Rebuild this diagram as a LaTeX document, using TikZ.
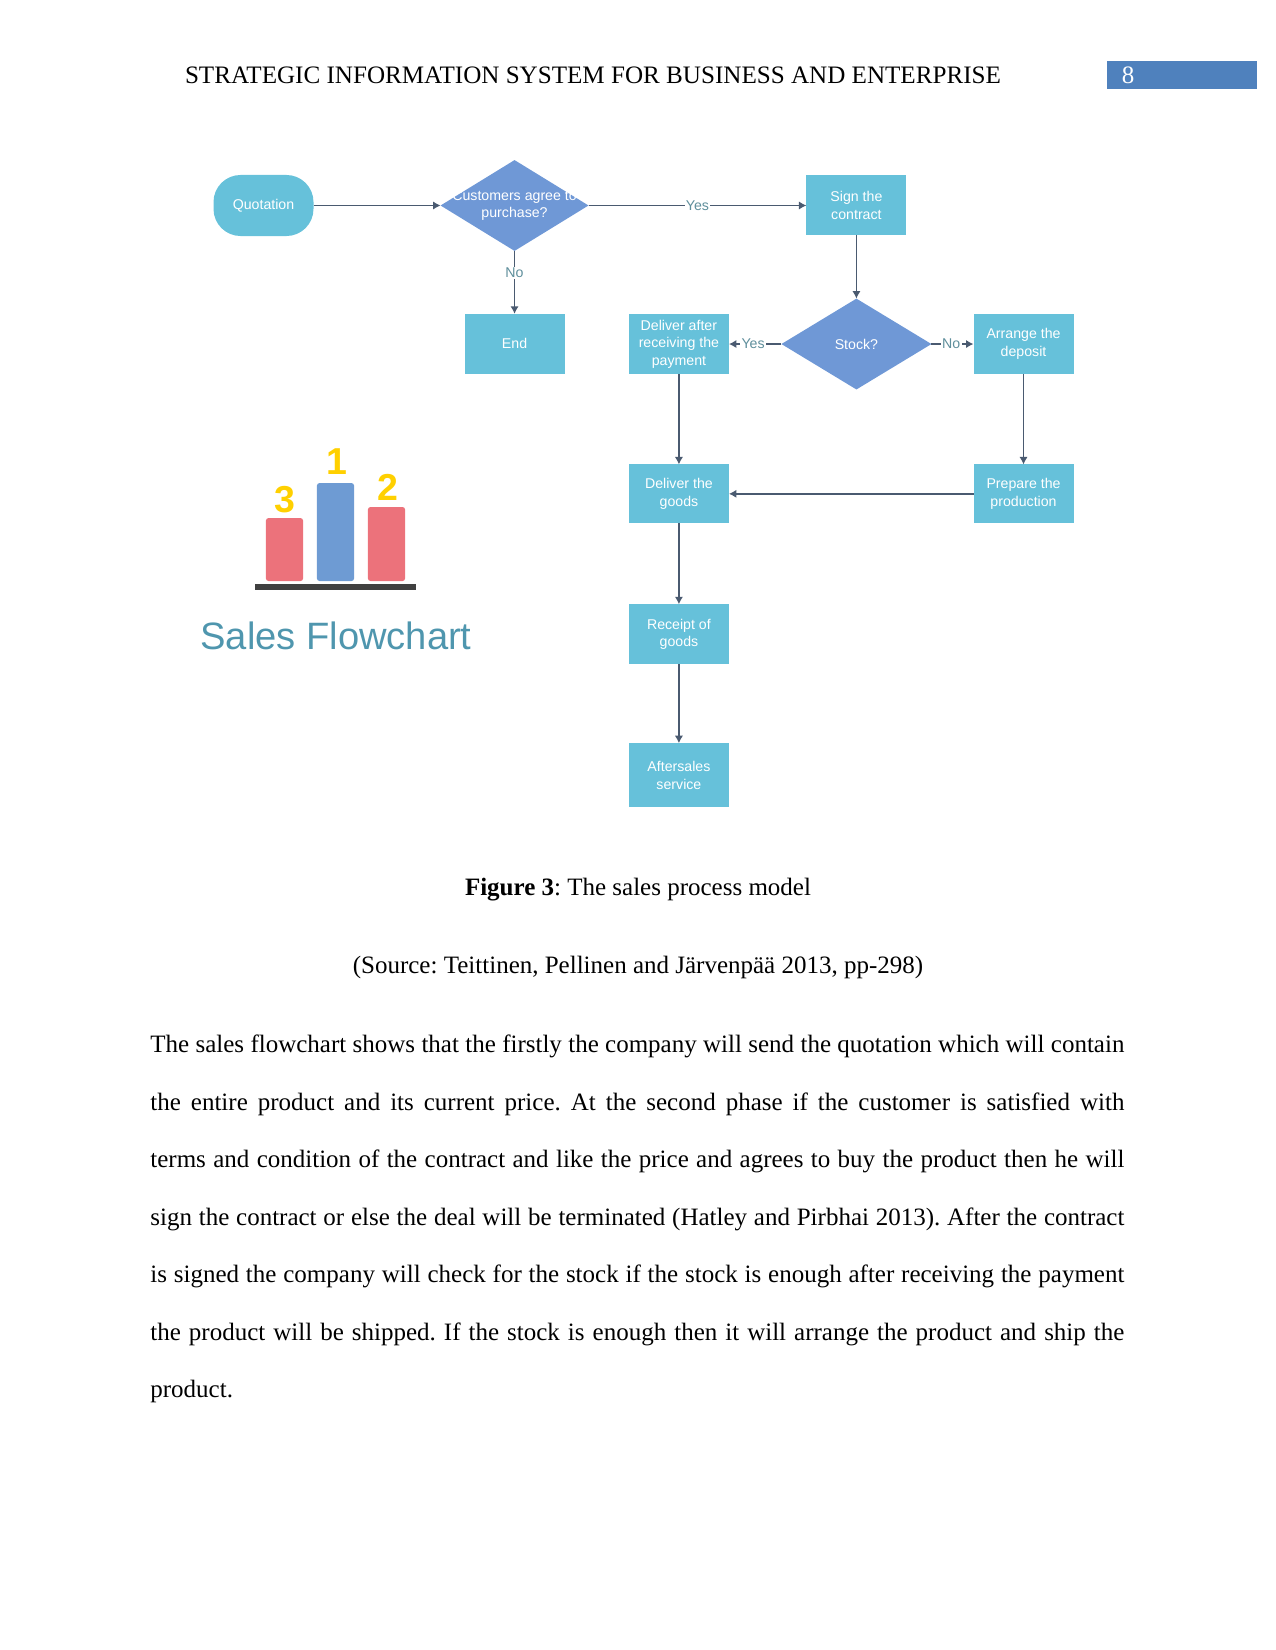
\documentclass[tikz,border=0pt]{standalone}
\usepackage{fontspec}
\setmainfont{Liberation Serif}
\newfontfamily\chartfont{Liberation Sans}
\usepackage{xcolor}
\usetikzlibrary{shapes.geometric,positioning,arrows.meta}

\definecolor{boxcyan}{HTML}{66C1DA}
\definecolor{askblue}{HTML}{6F98D6}
\definecolor{lineslate}{HTML}{4A5A70}
\definecolor{wordteal}{HTML}{5F8F9C}
\definecolor{barred}{HTML}{EC727B}
\definecolor{barblue}{HTML}{6E9BD3}
\definecolor{rankgold}{HTML}{FFD000}
\definecolor{titleteal}{HTML}{4F96AE}
\definecolor{tabblue}{HTML}{4F81BD}

\begin{document}
\begin{tikzpicture}[
    x=0.48pt, y=-0.48pt,
    box/.style={rectangle, fill=boxcyan, text=white, align=center, minimum width=48pt, minimum height=28.8pt, inner sep=0pt, outer sep=0pt, font=\chartfont\fontsize{6.8}{8.4}\selectfont},
    ask/.style={diamond, fill=askblue, inner sep=0pt, outer sep=0pt, minimum width=71pt, minimum height=43.6pt},
    asktext/.style={text=white, align=center, inner sep=0pt, font=\chartfont\fontsize{6.8}{8}\selectfont},
    arrow/.style={-{Latex[length=3.6pt,width=4pt]}, draw=lineslate, line width=0.7pt},
    word/.style={fill=white, text=wordteal, inner sep=0.6pt, font=\chartfont\fontsize{6.8}{8}\selectfont},
    bar/.style={rectangle, rounded corners=1.2pt, minimum width=17.8pt, inner sep=0pt, outer sep=0pt, anchor=south},
    rank/.style={text=rankgold, inner sep=0pt, font=\chartfont\bfseries\fontsize{18}{18}\selectfont},
    page/.style={inner sep=0pt, font=\fontsize{12}{14}\selectfont\frenchspacing}
]
    \useasboundingbox (0,0) rectangle (1275,1650);

    % Running head
    \node[page, font=\fontsize{12.05}{14}\selectfont, anchor=base] (head) at (593,84) {STRATEGIC INFORMATION SYSTEM FOR BUSINESS AND ENTERPRISE};
    \node[rectangle, fill=tabblue, minimum width=72pt, minimum height=13.4pt, inner sep=0pt, outer sep=0pt] (tab) at (1181.5,75) {};
    \node[page, anchor=base, text=white] (pageno) at (1128,84) {8};

    % Top row
    \node[box, rounded corners=13pt, minimum height=29.3pt] (quote) at (263.5,205.5) {Quotation};
    \node[ask, right=61pt of quote] (agree) {};
    \node[asktext] (agreetext) at (agree) {Customers agree to\\purchase?};
    \node[box, right=104.6pt of agree] (sign) {Sign the\\contract};
    \node[box, below=30.2pt of agree] (finish) {End};

    % Stock check and the two branches
    \node[ask, minimum width=72pt, below=30.3pt of sign] (stock) {};
    \node[asktext] (stocktext) at (stock) {Stock?};
    \node[box, left=25.2pt of stock] (paid) {Deliver after\\receiving the\\payment};
    \node[box, right=20.2pt of stock] (deposit) {Arrange the\\deposit};
    \node[box, below=43.4pt of paid, minimum height=28.2pt] (goods) {Deliver the\\goods};
    \node[box, below=43.4pt of deposit, minimum height=28.2pt] (prepare) {Prepare the\\production};
    \node[box, below=38.9pt of goods] (receipt) {Receipt of\\goods};
    \node[box, below=37.9pt of receipt, minimum height=30.7pt] (service) {Aftersales\\service};

    % Arrows
    \draw[arrow] (quote) -- (agree);
    \draw[arrow] (agree) -- node[word, pos=0.5] {Yes} (sign);
    \draw[arrow] (agree) -- node[word, pos=0.35] {No} (finish);
    \draw[arrow] (sign) -- (stock);
    \draw[arrow] (stock) -- node[word, pos=0.54] {Yes} (paid);
    \draw[arrow] (stock) -- node[word, pos=0.47] {No} (deposit);
    \draw[arrow] (paid) -- (goods);
    \draw[arrow] (deposit) -- (prepare);
    \draw[arrow] (prepare) -- (goods);
    \draw[arrow] (goods) -- (receipt);
    \draw[arrow] (receipt) -- (service);

    % Podium
    \node[rectangle, fill=black!75, minimum width=77.3pt, minimum height=2.9pt, inner sep=0pt] (ground) at (335.5,587) {};
    \node[bar, fill=barblue, minimum height=47pt] (first) at (335.5,581) {};
    \node[bar, fill=barred, minimum height=35.5pt] (second) at (386.5,581) {};
    \node[bar, fill=barred, minimum height=30.2pt] (third) at (284.5,581) {};
    \node[rank] (one) at (336.5,462) {1};
    \node[rank] (two) at (388,487) {2};
    \node[rank] (three) at (285,500) {3};
    \node[inner sep=0pt, text=titleteal, font=\chartfont\fontsize{18.3}{20}\selectfont] (title) at (336,636) {Sales Flowchart};

    % Caption
    \node[page, anchor=base] (caption) at (638,895) {\textbf{Figure 3}: The sales process model};
    \node[page, anchor=base] (source) at (638,973) {(Source: Teittinen, Pellinen and Järvenpää 2013, pp-298)};

    % Body text
    \node[page, anchor=north west, text width=467.5pt, align=justify] (body) at (150,1034.5) {\setlength{\baselineskip}{27.6pt}The sales flowchart shows that the firstly the company will send the quotation which will contain\linebreak the entire product and its current price. At the second phase if the customer is satisfied with\linebreak terms and condition of the contract and like the price and agrees to buy the product then he will\linebreak sign the contract or else the deal will be terminated (Hatley and Pirbhai 2013). After the contract\linebreak is signed the company will check for the stock if the stock is enough after receiving the payment\linebreak the product will be shipped. If the stock is enough then it will arrange the product and ship the\linebreak product.\par};
\end{tikzpicture}
\end{document}
